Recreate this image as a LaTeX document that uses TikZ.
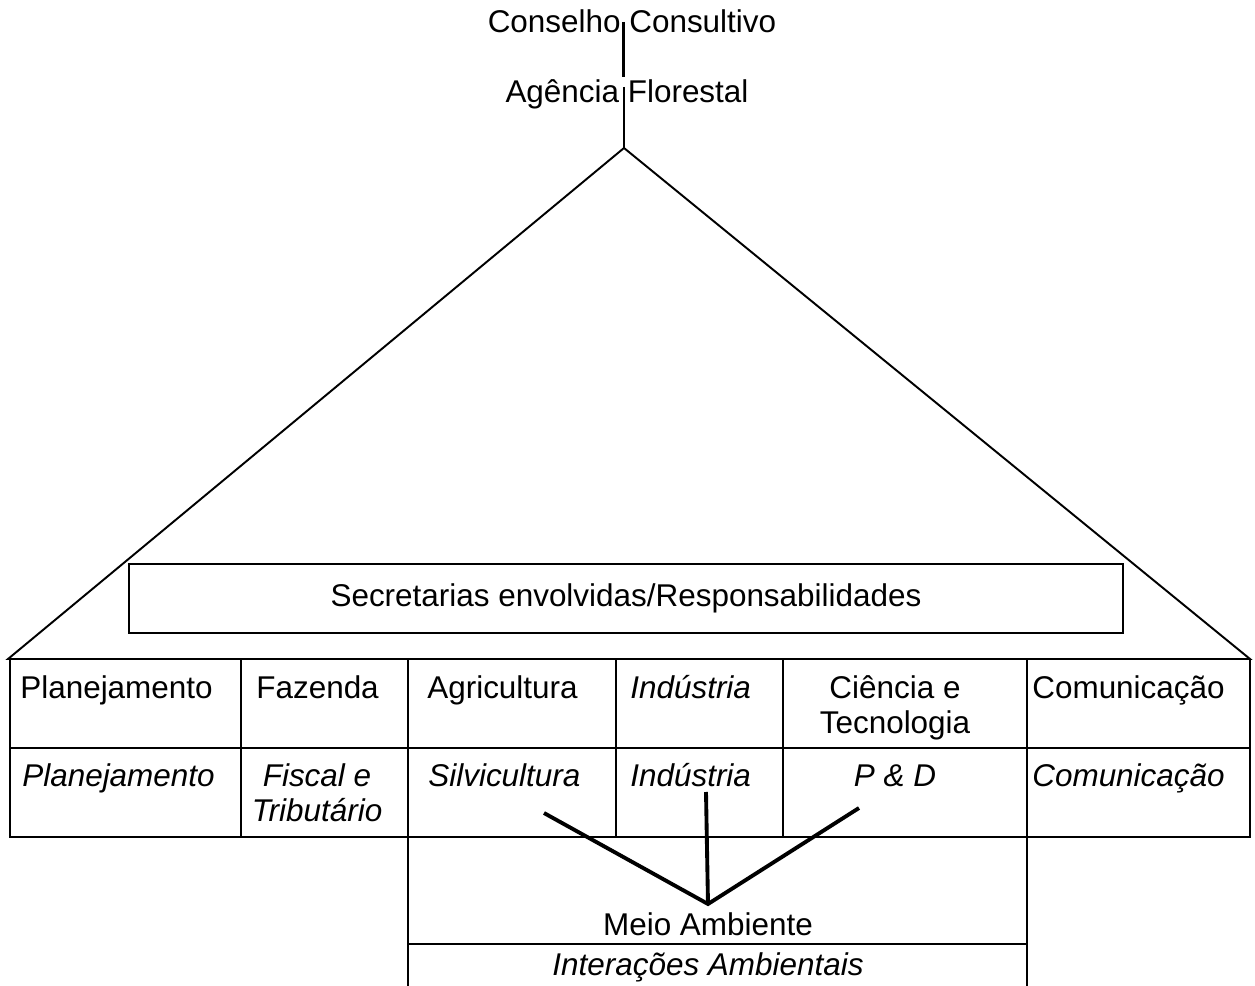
\documentclass[tikz,border=0pt]{standalone}
\usepackage{fontspec}
\setmainfont{Liberation Sans}
\begin{document}
\begin{tikzpicture}[x=0.02cm,y=-0.02cm,
    txt/.style={inner sep=0pt,font=\fontsize{17.9}{19.8}\selectfont},
    cellw/.style={txt,anchor=base west},
    cellc/.style={txt,anchor=base,align=center},
    rim/.style={line width=1.1pt},
    grid/.style={line width=0.6pt},
    link/.style={line width=2.2pt}]
   \useasboundingbox (0,0) rectangle (1255,986);
   % top of the hierarchy
   \node[txt,anchor=base] (conselho) at (632,33) {Conselho Consultivo};
   \node[txt,anchor=base] (agencia) at (627,103) {Agência Florestal};
   \coordinate (c1) at (623.5,22); \coordinate (c2) at (623.5,77);
   \coordinate (a1) at (624,87); \coordinate (apex) at (624,148);
   \draw[line width=1.7pt] (c1) -- (c2);
   \draw[grid] (a1) -- (apex);
   \coordinate (tl) at (8,659); \coordinate (tr) at (1250,659);
   \draw[rim] (tl) -- (apex) -- (tr) -- cycle;
   \node[rim,draw,txt,minimum width=19.88cm,minimum height=1.38cm] (secr) at (626,598.5) {Secretarias envolvidas/Responsabilidades};
   % table
   \draw[grid] (10,659) -- (10,837) -- (1250,837) -- (1250,659);
   \draw[grid] (10,748) -- (1250,748);
   \foreach \x in {241,408,616,783,1027} \draw[grid] (\x,659) -- (\x,837);
   \node[cellw] (plan) at (20,698) {Planejamento};
   \node[cellw] (faz) at (256,698) {Fazenda};
   \node[cellw] (agri) at (427,698) {Agricultura};
   \node[cellw] (ind) at (630,698) {\itshape Indústria};
   \node[cellc] (cet) at (895,733) {Ciência e\\Tecnologia};
   \node[cellw] (com) at (1032,698) {Comunicação};
   \node[cellw] (plan2) at (22,786) {\itshape Planejamento};
   \node[cellc,font=\fontsize{17.9}{19.8}\selectfont\itshape] (fisc) at (317,821) {Fiscal e\\Tributário};
   \node[cellw] (silv) at (428,786) {\itshape Silvicultura};
   \node[cellw] (ind2) at (630,786) {\itshape Indústria};
   \node[cellc] (pd) at (895,786) {\itshape P \& D};
   \node[cellw] (com2) at (1032,786) {\itshape Comunicação};
   % environment
   \draw[grid] (408,837) -- (408,986);
   \draw[grid] (1027,837) -- (1027,986);
   \draw[rim] (408,944) -- (1027,944);
   \node[txt,anchor=base] (meio) at (708,935) {Meio Ambiente};
   \node[txt,anchor=base] (inter) at (708,975) {\itshape Interações Ambientais};
   \coordinate (m) at (708,904);
   \coordinate (s) at (544,813); \coordinate (i) at (706,792); \coordinate (p) at (859,808);
   \draw[link] (s) -- (m) -- (p);
   \draw[link] (i) -- (m);
\end{tikzpicture}
\end{document}
